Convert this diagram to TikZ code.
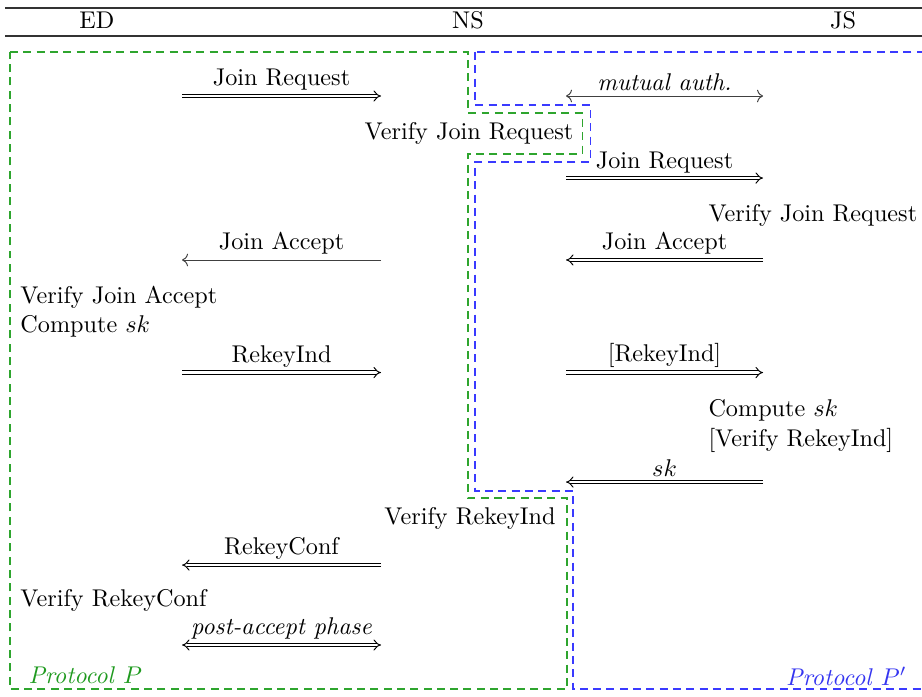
\documentclass[tikz,border=0pt]{standalone}
\usetikzlibrary{arrows.meta, calc}
\definecolor{cgreen}{HTML}{1F9A1F}
\definecolor{cblue}{HTML}{3535F0}
\definecolor{lgreen}{HTML}{2EA52E}
\definecolor{lblue}{HTML}{3A3AFF}
\tikzset{
  every picture/.style={line width=0.4pt},
  msg/.style={double, double distance=1.2pt, -{Implies}},
  msgboth/.style={double, double distance=1.2pt, {Implies}-{Implies}},
  plain/.style={-{To}, black!75},
  lbl/.style={above, inner sep=2pt, text=black},
  act/.style={anchor=west, inner sep=0pt},
  protoP/.style={draw=lgreen, line width=0.45pt, dash pattern=on 3.3pt off 2.2pt},
  protoPp/.style={draw=lblue, line width=0.45pt, dash pattern=on 3.3pt off 2.2pt},
}
\begin{document}
\begin{tikzpicture}
  \useasboundingbox (0,0) rectangle (13.387,10.106);
  % header rules
  \draw[line width=0.8pt, black!80] (0.073,9.990) -- (13.387,9.990);
  \draw[line width=0.5pt, black!80] (0.073,9.583) -- (13.387,9.583);
  \node (ed) at (1.408,9.816) {ED};
  \node (ns) at (6.795,9.816) {NS};
  \node (js) at (12.240,9.816) {JS};

  % the two protocols
  \draw[protoP] (0.145,9.351) -- (6.795,9.351) -- (6.795,8.465) -- (8.451,8.465) -- (8.451,7.870)
    -- (6.795,7.870) -- (6.795,2.875) -- (8.233,2.875) -- (8.233,0.102) -- (0.145,0.102) -- cycle;
  \draw[protoPp] (6.897,9.351) -- (6.897,8.581) -- (8.567,8.581) -- (8.567,7.754) -- (6.897,7.754)
    -- (6.897,2.977) -- (8.320,2.977) -- (8.320,0.102) -- (13.45,0.102) -- (13.45,9.351) -- cycle;

  % arrow columns and message rows
  \coordinate (edL) at (2.643,0); \coordinate (edR) at (5.532,0);
  \coordinate (jsL) at (8.218,0); \coordinate (jsR) at (11.079,0);
  \coordinate (m1) at (0,8.712); \coordinate (m2) at (0,7.521);
  \coordinate (m3) at (0,6.331); \coordinate (m4) at (0,4.697);
  \coordinate (m5) at (0,3.107); \coordinate (m6) at (0,1.902);
  \coordinate (m7) at (0,0.741);

  % local steps
  \node (vjrns) at (6.810,8.175) {Verify Join Request};
  \node[act] (vjrjs) at (10.280,6.984) {Verify Join Request};
  \node[act] (vjaed) at (0.290,5.793) {Verify Join Accept};
  \node[act] (csked) at (0.290,5.372) {Compute $sk$};
  \node[act] (cskjs) at (10.280,4.153) {Compute $sk$};
  \node[act] (vrijs) at (10.280,3.717) {[Verify RekeyInd]};
  \node (vrins) at (6.824,2.585) {Verify RekeyInd};
  \node[act] (vrced) at (0.290,1.394) {Verify RekeyConf};
  \node[act, text=cgreen] (protp) at (0.407,0.305) {\textit{Protocol} $P$};
  \node[anchor=east, inner sep=0pt, text=cblue] (protpp) at (13.170,0.290) {\textit{Protocol} $P'$};

  % messages
  \draw[msg] (edL |- m1) -- node[lbl] {Join Request} (edR |- m1);
  \draw[plain, {To}-{To}] (jsL |- m1) -- node[lbl] {\textit{mutual auth.}} (jsR |- m1);
  \draw[msg] (jsL |- m2) -- node[lbl] {Join Request} (jsR |- m2);
  \draw[plain] (edR |- m3) -- node[lbl] {Join Accept} (edL |- m3);
  \draw[msg] (jsR |- m3) -- node[lbl] {Join Accept} (jsL |- m3);
  \draw[msg] (edL |- m4) -- node[lbl] {RekeyInd} (edR |- m4);
  \draw[msg] (jsL |- m4) -- node[lbl] {[RekeyInd]} (jsR |- m4);
  \draw[msg] (jsR |- m5) -- node[lbl] {$sk$} (jsL |- m5);
  \draw[msg] (edR |- m6) -- node[lbl] {RekeyConf} (edL |- m6);
  \draw[msgboth] (edL |- m7) -- node[lbl] {\textit{post-accept phase}} (edR |- m7);
\end{tikzpicture}
\end{document}
